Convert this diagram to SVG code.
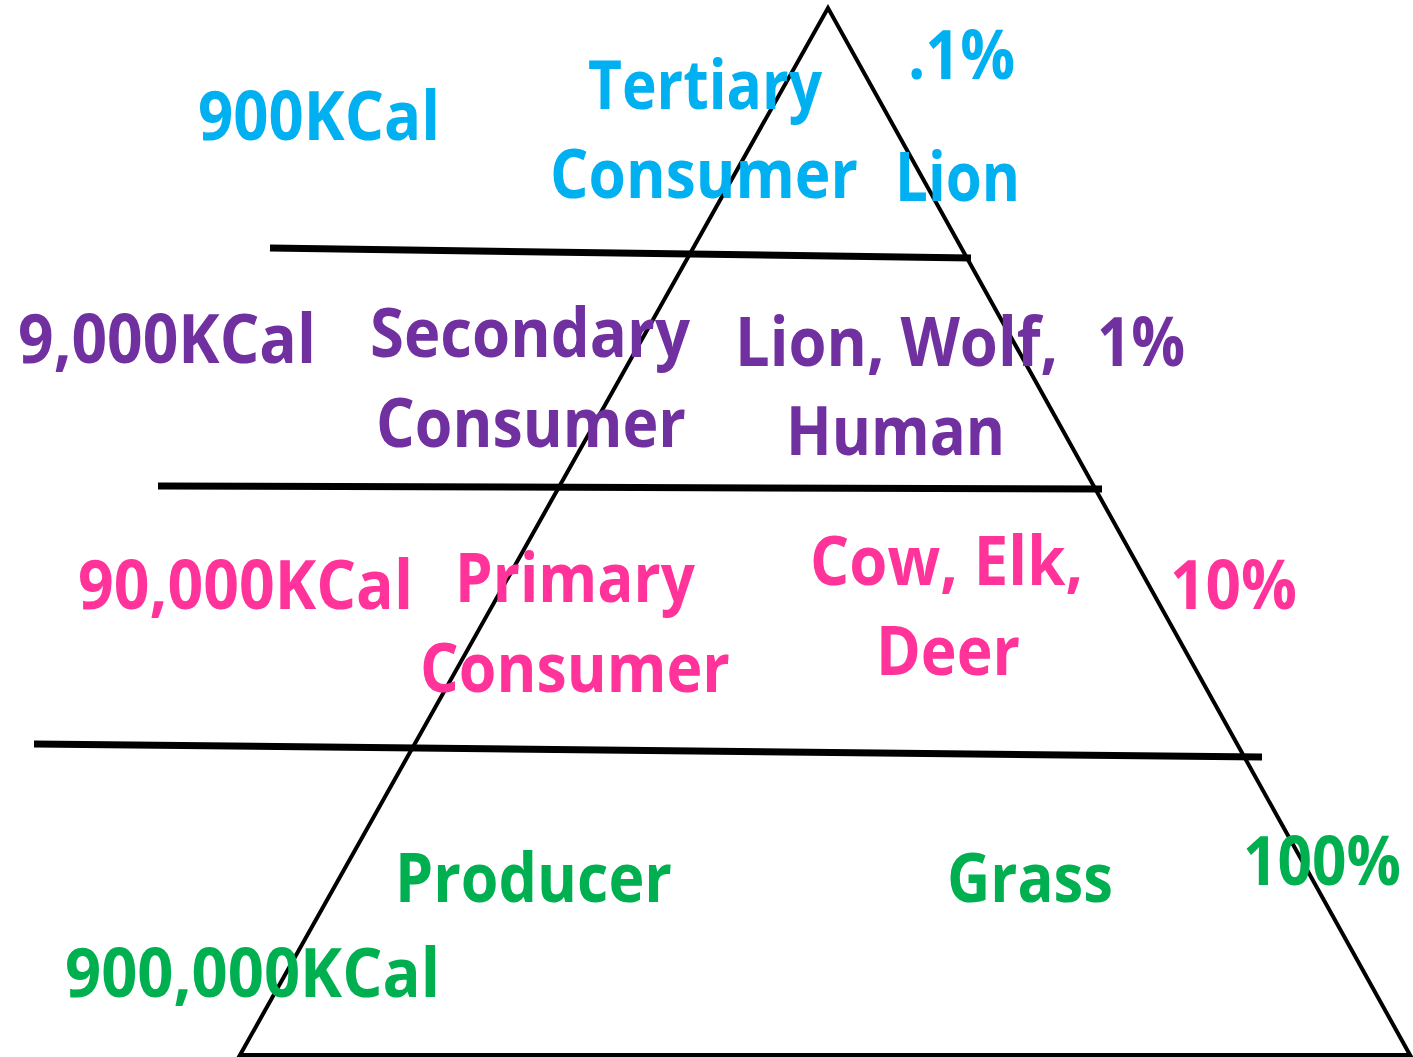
<svg xmlns="http://www.w3.org/2000/svg" width="1413" height="1057" viewBox="0 0 1413 1057">
  <style>
    text { font-family: "Open Sans", "Lato", "Liberation Sans", sans-serif; font-weight: bold; font-size: 68px; }
    .t3 { fill: #00B0F0; }
    .t2 { fill: #7030A0; }
    .t1 { fill: #FF3399; }
    .t0 { fill: #00B050; }
    .edge { fill: none; stroke: #000; stroke-width: 4; stroke-linejoin: miter; }
    .tier { stroke: #000; stroke-width: 7; }
  </style>
  <rect width="1413" height="1057" fill="#fff"/>

  <!-- pyramid outline and tier dividers -->
  <g id="connectors">
    <polygon class="edge" points="828,8 240,1055 1410,1055"/>
    <line class="tier" x1="270" y1="248" x2="971" y2="258"/>
    <line class="tier" x1="158" y1="486" x2="1102" y2="489"/>
    <line class="tier" x1="34" y1="744" x2="1262" y2="757"/>
  </g>

  <!-- tertiary level -->
  <g id="tertiary">
    <text class="t3" x="198" y="140" textLength="242" lengthAdjust="spacingAndGlyphs">900KCal</text>
    <text class="t3" x="588" y="109" textLength="234" lengthAdjust="spacingAndGlyphs">Tertiary</text>
    <text class="t3" x="908" y="79" textLength="107" lengthAdjust="spacingAndGlyphs">.1%</text>
    <text class="t3" x="550" y="198" textLength="308" lengthAdjust="spacingAndGlyphs">Consumer</text>
    <text class="t3" x="895" y="201" textLength="125" lengthAdjust="spacingAndGlyphs">Lion</text>
  </g>

  <!-- secondary level -->
  <g id="secondary">
    <text class="t2" x="18" y="363" textLength="298" lengthAdjust="spacingAndGlyphs">9,000KCal</text>
    <text class="t2" x="370" y="357" textLength="320" lengthAdjust="spacingAndGlyphs">Secondary</text>
    <text class="t2" x="376" y="447" textLength="310" lengthAdjust="spacingAndGlyphs">Consumer</text>
    <text class="t2" x="735" y="366" textLength="323" lengthAdjust="spacingAndGlyphs">Lion, Wolf,</text>
    <text class="t2" x="1097" y="366" textLength="88" lengthAdjust="spacingAndGlyphs">1%</text>
    <text class="t2" x="786" y="455" textLength="219" lengthAdjust="spacingAndGlyphs">Human</text>
  </g>

  <!-- primary level -->
  <g id="primary">
    <text class="t1" x="78" y="609" textLength="335" lengthAdjust="spacingAndGlyphs">90,000KCal</text>
    <text class="t1" x="455" y="602" textLength="240" lengthAdjust="spacingAndGlyphs">Primary</text>
    <text class="t1" x="420" y="692" textLength="310" lengthAdjust="spacingAndGlyphs">Consumer</text>
    <text class="t1" x="810" y="585" textLength="273" lengthAdjust="spacingAndGlyphs">Cow, Elk,</text>
    <text class="t1" x="876" y="675" textLength="144" lengthAdjust="spacingAndGlyphs">Deer</text>
    <text class="t1" x="1170" y="609" textLength="127" lengthAdjust="spacingAndGlyphs">10%</text>
  </g>

  <!-- producer level -->
  <g id="producer">
    <text class="t0" x="395" y="902" textLength="277" lengthAdjust="spacingAndGlyphs">Producer</text>
    <text class="t0" x="947" y="902" textLength="166" lengthAdjust="spacingAndGlyphs">Grass</text>
    <text class="t0" x="1243" y="885" textLength="158" lengthAdjust="spacingAndGlyphs">100%</text>
    <text class="t0" x="65" y="997" textLength="375" lengthAdjust="spacingAndGlyphs">900,000KCal</text>
  </g>
</svg>
